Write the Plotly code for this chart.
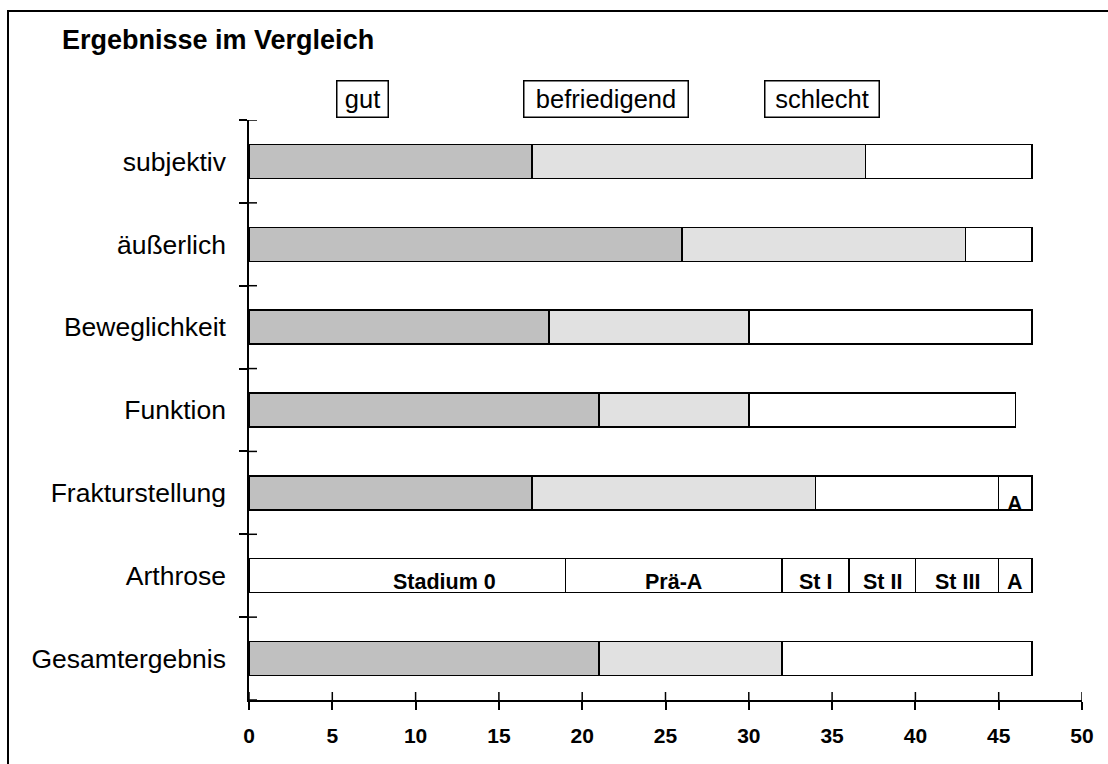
import plotly.graph_objects as go
import numpy as np

categories = ["subjektiv", "äußerlich", "Beweglichkeit", "Funktion",
              "Frakturstellung", "Arthrose", "Gesamtergebnis"]
gut = [17, 26, 18, 21, 17, None, 21]
befriedigend = [20, 17, 12, 9, 17, None, 11]
schlecht = [10, 4, 17, 16, 11, None, 15]
fraktur_A = [None, None, None, None, 2, None, None]
arthrose_labels = ["Stadium 0", "Prä-A", "St I", "St II", "St III", "A"]
arthrose_values = [19, 13, 4, 4, 5, 2]
x_ticks = [0, 5, 10, 15, 20, 25, 30, 35, 40, 45, 50]
legend_names = ["gut", "befriedigend", "schlecht"]
legend_pos = [6.8, 21.4, 34.4]

FONT = "Liberation Sans, Arial, sans-serif"
colors = ["#c0c0c0", "#e1e1e1", "#ffffff"]
line = dict(color="black", width=1.5)
legend_box_w = [47, 160, 110]
label_xshift = {"Stadium 0": 37}

fig = go.Figure()
for name, vals, col in zip(legend_names, [gut, befriedigend, schlecht], colors):
    fig.add_trace(go.Bar(y=categories, x=vals, orientation="h", name=name,
                         marker=dict(color=col, line=line), hoverinfo="x+y"))
fig.add_trace(go.Bar(y=categories, x=fraktur_A, orientation="h", name="A",
                     marker=dict(color="#ffffff", line=line)))
for lab, v in zip(arthrose_labels, arthrose_values):
    fig.add_trace(go.Bar(y=["Arthrose"], x=[v], orientation="h", name=lab,
                         marker=dict(color="#ffffff", line=line)))

ann = []
# Arthrose stage labels
starts = np.concatenate([[0], np.cumsum(arthrose_values)[:-1]])
for lab, s, v in zip(arthrose_labels, starts, arthrose_values):
    ann.append(dict(x=s + v / 2, y="Arthrose", xref="x", yref="y", text=lab,
                    showarrow=False, yshift=-6, xshift=label_xshift.get(lab, 0),
                    font=dict(family=FONT, size=21.5, color="black", weight="bold")))
# Frakturstellung A label
fi = categories.index("Frakturstellung")
fs = gut[fi] + befriedigend[fi] + schlecht[fi]
ann.append(dict(x=fs + fraktur_A[fi] / 2, y="Frakturstellung", xref="x", yref="y",
                text="A", showarrow=False, yshift=-11,
                font=dict(family=FONT, size=21.5, color="black", weight="bold")))
# legend boxes
for name, xp, w in zip(legend_names, legend_pos, legend_box_w):
    ann.append(dict(x=xp, y=1, xref="x", yref="paper", text=name, showarrow=False,
                    xanchor="center", yanchor="bottom", yshift=2,
                    width=w, height=32, align="center", valign="middle",
                    bordercolor="black", borderwidth=1.5, borderpad=1.5,
                    bgcolor="white",
                    font=dict(family=FONT, size=25.5, color="black")))

shapes = []
# inner halves of crossing ticks
for i in range(len(categories) + 1):
    shapes.append(dict(type="line", xref="paper", yref="y", xsizemode="pixel",
                       xanchor=0, x0=0, x1=8, y0=i - 0.5, y1=i - 0.5,
                       line=dict(color="black", width=1.5)))
for v in x_ticks:
    shapes.append(dict(type="line", xref="x", yref="paper", ysizemode="pixel",
                       yanchor=0, y0=0, y1=8, x0=v, x1=v,
                       line=dict(color="black", width=1.5)))
# outer frame
shapes.append(dict(type="rect", xref="paper", yref="paper",
                   x0=(8 - 249) / 833, x1=1.2, y0=-0.3, y1=(700 - 11) / 580,
                   line=dict(color="black", width=2), layer="below"))

fig.update_layout(
    width=1108, height=764,
    margin=dict(l=249, r=26, t=120, b=64),
    paper_bgcolor="white", plot_bgcolor="white",
    barmode="stack", bargap=0.59, showlegend=False,
    font=dict(family=FONT, color="black"),
    title=dict(text="<b>Ergebnisse im Vergleich</b>", x=62 / 1108, xanchor="left",
               xref="container", y=1 - 40 / 764, yanchor="middle", yref="container",
               font=dict(family=FONT, size=27, color="black")),
    annotations=ann, shapes=shapes,
    xaxis=dict(range=[0, 50], tickvals=x_ticks, ticks="outside", ticklen=8,
               tickwidth=1.5, tickcolor="black", showline=True, linecolor="black",
               linewidth=2, showgrid=False, zeroline=False, ticklabelstandoff=8,
               tickfont=dict(family=FONT, size=21, color="black", weight="bold")),
    yaxis=dict(type="category", categoryorder="array", categoryarray=categories,
               range=[6.5, -0.5], tickson="boundaries", ticks="outside", ticklen=8,
               tickwidth=1.5, tickcolor="black", showline=True, linecolor="black",
               linewidth=1.5, showgrid=False, zeroline=False, ticklabelstandoff=16,
               tickfont=dict(family=FONT, size=26.5, color="black")),
)

fig.write_html("out.html")
